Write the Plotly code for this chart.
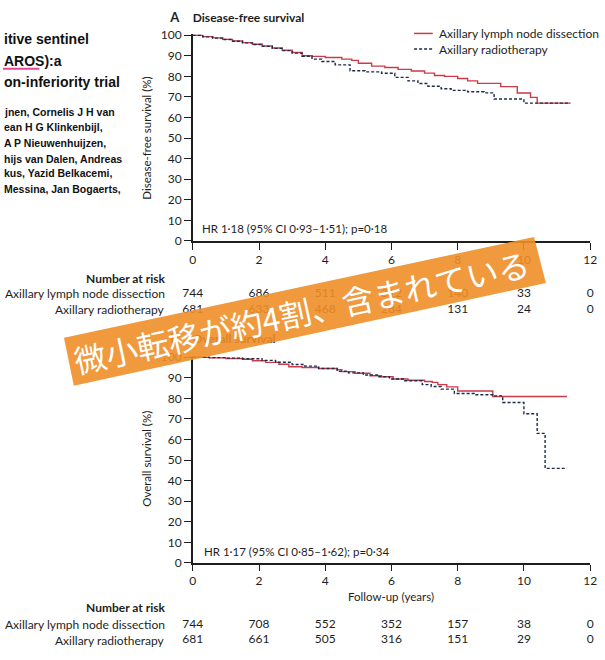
import plotly.graph_objects as go

W, H = 605, 660

# ---------------- data ----------------
year_ticks = [0, 2, 4, 6, 8, 10, 12]

dfs_alnd_t = [0, 0.3, 0.6, 0.9, 1.2, 1.5, 1.8, 2.1, 2.4, 2.7, 3.0, 3.3, 3.6, 4.0, 4.5, 4.8, 5.0,
              5.4, 5.8, 6.2, 6.6, 7.0, 7.3, 7.6, 8.0, 8.3, 8.6, 9.3, 9.8, 10.2, 10.4, 11.4]
dfs_alnd_s = [100, 99.3, 98.7, 98.0, 97.2, 96.4, 95.6, 94.8, 93.8, 92.7, 91.6, 90.0, 89.7, 89.2,
              88.4, 87.8, 86.4, 85.0, 84.3, 83.4, 82.6, 81.6, 80.4, 80.0, 79.0, 77.8, 76.6, 75.0,
              71.9, 69.8, 67.0, 67.0]

dfs_axrt_t = [0, 0.3, 0.6, 0.9, 1.2, 1.5, 1.8, 2.1, 2.4, 2.7, 3.0, 3.3, 3.6, 3.9, 4.3, 4.75, 5.2,
              5.7, 6.1, 6.5, 6.8, 7.1, 7.5, 7.8, 8.3, 8.8, 9.1, 10.0, 11.4]
dfs_axrt_s = [100, 99.2, 98.6, 97.9, 97.1, 96.3, 95.5, 94.6, 93.6, 92.5, 91.3, 89.8, 88.4, 87.2,
              85.6, 82.7, 82.2, 81.5, 79.5, 77.8, 76.5, 75.2, 74.0, 73.2, 72.5, 72.0, 69.0, 67.0, 67.0]

os_alnd_t = [0, 0.5, 1.0, 1.5, 1.8, 2.2, 2.6, 2.9, 3.3, 3.8, 4.36, 4.5, 4.9, 5.35, 5.7, 6.05, 6.5,
             7.0, 7.23, 7.4, 7.67, 8.0, 9.06, 11.3]
os_alnd_s = [100, 99.7, 99.4, 99.0, 98.3, 97.5, 96.6, 95.4, 95.0, 94.5, 94.0, 93.0, 92.2, 91.0,
             90.5, 89.4, 88.8, 88.2, 87.8, 86.7, 85.6, 83.6, 80.9, 80.9]

os_axrt_t = [0, 0.5, 1.0, 1.5, 2.09, 2.5, 3.0, 3.38, 3.8, 4.36, 4.7, 5.15, 5.6, 5.94, 6.4, 6.93,
             7.2, 7.5, 7.9, 8.5, 9.1, 9.36, 10.0, 10.4, 10.64, 11.3]
os_axrt_s = [100, 99.8, 99.6, 99.3, 98.5, 97.6, 96.5, 95.7, 94.5, 93.2, 92.4, 91.4, 90.5, 89.4,
             88.6, 86.7, 85.8, 84.5, 82.4, 81.8, 81.2, 78.0, 72.5, 63.0, 46.0, 46.0]

risk_dfs_alnd = [744, 686, 511, 312, 140, 33, 0]
risk_dfs_axrt = [681, 633, 468, 284, 131, 24, 0]
risk_os_alnd = [744, 708, 552, 352, 157, 38, 0]
risk_os_axrt = [681, 661, 505, 316, 151, 29, 0]

series_names = ["Axillary lymph node dissection", "Axillary radiotherapy"]
hr_dfs = "HR 1·18 (95% CI 0·93–1·51); p=0·18"
hr_os = "HR 1·17 (95% CI 0·85–1·62); p=0·34"
banner_text = "微小転移が約4割、含まれている"

article_title = ["itive sentinel", "AROS):a", "on-inferiority trial"]
article_authors = ["jnen, Cornelis J H van", "ean H G Klinkenbijl,", "A P Nieuwenhuijzen,",
                   "hijs van Dalen, Andreas", "kus, Yazid Belkacemi,", "Messina, Jan Bogaerts,"]

# ---------------- styles ----------------
RED = "#cc3a47"
NAVY = "#1c2b4a"
INK = "#1e1e1e"
FONT = "Lato"


def px(x):
    return x / W


def py(y):
    return 1 - y / H


fig = go.Figure()

curve_sets = [
    ("x", "y", dfs_alnd_t, dfs_alnd_s, dfs_axrt_t, dfs_axrt_s),
    ("x2", "y2", os_alnd_t, os_alnd_s, os_axrt_t, os_axrt_s),
]
for xa, ya, t1, s1, t2, s2 in curve_sets:
    fig.add_trace(go.Scatter(x=t1, y=s1, mode="lines", line=dict(color=RED, width=1.4, shape="hv"),
                             xaxis=xa, yaxis=ya, showlegend=False, hoverinfo="skip"))
    fig.add_trace(go.Scatter(x=t2, y=s2, mode="lines",
                             line=dict(color=NAVY, width=1.4, shape="hv", dash="3px,2px"),
                             xaxis=xa, yaxis=ya, showlegend=False, hoverinfo="skip"))

# number-at-risk rows (as traces so the banner overlays them)
risk_rows = [(risk_dfs_alnd, 293), (risk_dfs_axrt, 309.5), (risk_os_alnd, 631), (risk_os_axrt, 647)]
for vals, ypix in risk_rows:
    fig.add_trace(go.Scatter(x=year_ticks, y=[ypix] * len(vals), mode="text",
                             text=[str(v) for v in vals], textposition="middle center",
                             textfont=dict(family=FONT, size=12, color=INK),
                             xaxis="x4", yaxis="y3", showlegend=False, hoverinfo="skip",
                             cliponaxis=False))

# panel titles (as traces so the banner overlays them)
for letter, title, ypix in [("A", "Disease-free survival", 12), ("B", "Overall survival", 340)]:
    fig.add_trace(go.Scatter(x=[170, 193], y=[ypix, ypix], mode="text", text=[letter, title],
                             textposition="middle right",
                             textfont=dict(family=FONT, size=[13, 12], color=INK),
                             texttemplate=["<b>%{text}</b>", "<b>%{text}</b>"],
                             xaxis="x3", yaxis="y3", showlegend=False, hoverinfo="skip",
                             cliponaxis=False))

axis_common = dict(showline=True, linecolor=INK, linewidth=1.5, ticks="outside", ticklen=7,
                   tickwidth=1.3, tickcolor=INK, showgrid=False, zeroline=False,
                   tickfont=dict(family=FONT, size=12, color=INK))
xaxis_bottom = dict(axis_common, ticklen=6)

xdom = [px(193), px(597)]
fig.update_layout(
    width=W, height=H, margin=dict(l=0, r=0, t=0, b=0, pad=0), autosize=False,
    paper_bgcolor="white", plot_bgcolor="rgba(0,0,0,0)",
    xaxis=dict(domain=xdom, range=[0, 12], tickvals=year_ticks, anchor="y", **axis_common),
    yaxis=dict(domain=[py(239), py(28)], range=[0, 100.4], tickvals=list(range(0, 101, 10)),
               anchor="x", **axis_common),
    xaxis2=dict(domain=xdom, range=[0, 12], tickvals=year_ticks, anchor="y2", **xaxis_bottom),
    yaxis2=dict(domain=[py(568), py(357)], range=[0, 100.4], tickvals=list(range(0, 101, 10)),
                anchor="x2", **axis_common),
    xaxis3=dict(domain=[0, 1], range=[0, W], visible=False, anchor="y3"),
    yaxis3=dict(domain=[0, 1], range=[H, 0], visible=False, anchor="x3"),
    xaxis4=dict(domain=xdom, range=[0, 12], visible=False, anchor="y3"),
)

ann = []


def text(x, y, s, size=12, xanchor="left", bold=False, angle=0, family=FONT, color=INK):
    ann.append(dict(x=px(x), y=py(y), xref="paper", yref="paper", text=f"<b>{s}</b>" if bold else s,
                    showarrow=False, xanchor=xanchor, yanchor="middle", textangle=angle,
                    font=dict(family=family, size=size, color=color)))


# article text at left
for s, yy in zip(article_title, [33, 55, 77]):
    text(-1, yy, s, size=14, bold=True, family="Liberation Sans", color="#111")
for s, yy in zip(article_authors, [107, 123, 139, 155, 170, 186]):
    text(-1, yy, s, size=10.5, bold=True, family="Liberation Sans", color="#111")

# axis titles
text(146, 134, "Disease-free survival (%)", size=11.5, xanchor="center", angle=-90)
text(146, 462, "Overall survival (%)", size=11.5, xanchor="center", angle=-90)
text(395, 602, "Follow-up (years)", size=11.5, xanchor="center")

# HR text
text(200, 226, hr_dfs, size=11.5)
text(202, 556, hr_os, size=11.5)

# legend
text(441, 27, series_names[0], size=12)
text(441, 43, series_names[1], size=12)

# risk table labels
for ys in [(277, 293, 309.5), (614, 631, 647)]:
    text(167, ys[0], "Number at risk", size=12, xanchor="right", bold=True)
    text(167, ys[1], series_names[0], size=12, xanchor="right")
    text(167, ys[2], series_names[1], size=12, xanchor="right")

# banner text
text(304, 311, banner_text, size=32, xanchor="center", angle=-12.2,
     family="Noto Sans CJK JP", color="white")

fig.update_layout(annotations=ann)

shapes = [
    dict(type="line", xref="paper", yref="paper", x0=px(418), x1=px(437), y0=py(27), y1=py(27),
         line=dict(color=RED, width=1.5)),
    dict(type="line", xref="paper", yref="paper", x0=px(418), x1=px(437), y0=py(43), y1=py(43),
         line=dict(color=NAVY, width=1.5, dash="3px,2px")),
    dict(type="line", xref="paper", yref="paper", x0=px(0), x1=px(37), y0=py(63), y1=py(63),
         line=dict(color="#e8459b", width=2)),
]
corners = [(62, 338), (540, 235), (552, 282), (72, 387)]
path = "M " + " L ".join(f"{px(a):.5f},{py(b):.5f}" for a, b in corners) + " Z"
shapes.append(dict(type="path", xref="paper", yref="paper", path=path,
                   fillcolor="rgba(238,142,40,0.9)", line=dict(width=0), layer="above"))
fig.update_layout(shapes=shapes)

reset_css = (
    "var s=document.createElement('style');"
    "s.innerHTML='html,body{margin:0!important;padding:0!important;overflow:hidden!important;}"
    ".plotly-graph-div{position:absolute;left:0;top:0;}';"
    "document.head.appendChild(s);"
)
fig.write_html("out.html", config={"responsive": False, "displayModeBar": False},
               post_script=reset_css)
